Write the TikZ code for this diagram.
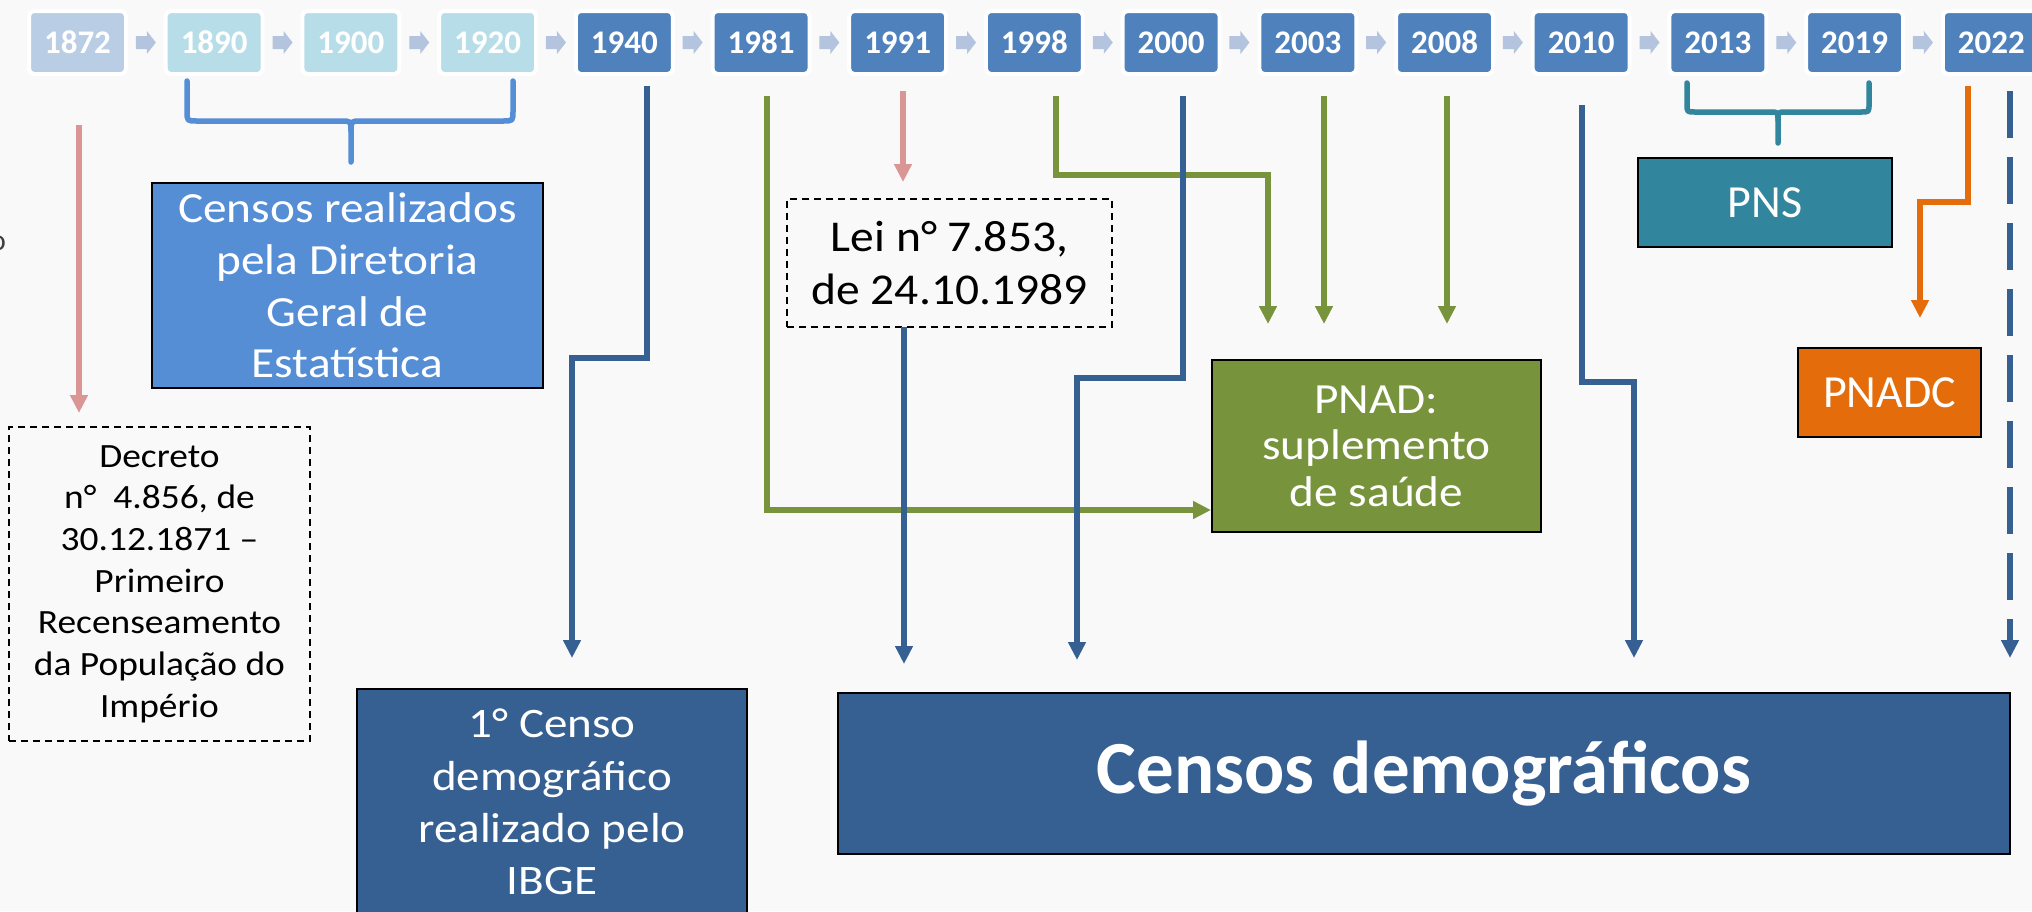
\documentclass[tikz,border=0pt]{standalone}
\usepackage{fontspec}
\setmainfont{Carlito}
\newfontfamily\strA[FakeStretch=1.10]{Carlito}
\newfontfamily\strB[FakeStretch=1.12]{Carlito}
\newfontfamily\strC[FakeStretch=1.08]{Carlito}
\usetikzlibrary{arrows.meta,calc}
\definecolor{bg}{HTML}{F9F9F9}
\definecolor{cA}{HTML}{B9CDE5}
\definecolor{cB}{HTML}{B7DEE8}
\definecolor{cC}{HTML}{4F81BD}
\definecolor{tlc}{HTML}{B4C3DE}
\definecolor{cmid}{HTML}{558ED5}
\definecolor{cdark}{HTML}{376092}
\definecolor{cgreen}{HTML}{77933C}
\definecolor{cteal}{HTML}{31859C}
\definecolor{corange}{HTML}{E46C0A}
\definecolor{cpink}{HTML}{D99694}
\begin{document}
\begin{tikzpicture}[x=1pt,y=-1pt,
  yearbox/.style={draw=white, line width=4pt, rounded corners=5pt, minimum width=97pt, minimum height=63pt, inner sep=0pt, text=white, font=\bfseries\fontsize{33}{40}\selectfont},
  filledbox/.style={draw=black, line width=2pt, text=white, align=center, inner sep=0pt},
  dashedbox/.style={draw=black, line width=1.5pt, dash pattern=on 7pt off 5pt, text=black, align=center, inner sep=0pt},
  conn/.style={line width=5.2pt, line join=miter, -{Triangle[length=18pt,width=17pt]}},
  bracestyle/.style={line width=5.5pt, line cap=round, line join=round},
]
\useasboundingbox (0,0) rectangle (2032,911);
\clip (0,0) rectangle (2032,911);
\fill[bg] (0,0) rectangle (2032,911);

% timeline
\foreach \yr/\col [count=\i from 0] in {1872/cA,1890/cB,1900/cB,1920/cB,1940/cC,1981/cC,1991/cC,1998/cC,2000/cC,2003/cC,2008/cC,2010/cC,2013/cC,2019/cC,2022/cC}
  \node[yearbox, fill=\col] (y\yr) at ({77.5+136.7*\i},42.5) {\yr};
\foreach \i in {0,...,13}{
  \pgfmathsetmacro\cx{77.5+136.7*\i+68.35}
  \fill[tlc] ({\cx-10},36) -- ({\cx+1},36) -- ({\cx+1},31) -- ({\cx+10},42.5) -- ({\cx+1},54) -- ({\cx+1},49) -- ({\cx-10},49) -- cycle;
}

% fragment at the left edge
\node[text={rgb,255:red,64;green,64;blue,64}, font=\fontsize{30}{36}\selectfont, inner sep=0pt] (frag) at (-2,243) {o};

% braces
\draw[bracestyle, cmid] (187,81) -- (187,111) .. controls (187,121) .. (197,121) -- (341,121) .. controls (351,121) .. (351,131) -- (351,162);
\draw[bracestyle, cmid] (513,81) -- (513,111) .. controls (513,121) .. (503,121) -- (361,121) .. controls (351,121) .. (351,131);
\draw[bracestyle, cteal] (1687,83) -- (1687,104) .. controls (1687,112) .. (1695,112) -- (1770,112) .. controls (1778,112) .. (1778,120) -- (1778,143);
\draw[bracestyle, cteal] (1869,83) -- (1869,104) .. controls (1869,112) .. (1861,112) -- (1786,112) .. controls (1778,112) .. (1778,120);

% boxes
\node[dashedbox, minimum width=301pt, minimum height=314pt, font=\strA\fontsize{34}{41.7}\selectfont] (decreto) at (159.5,584) {Decreto\\n°~ 4.856, de\\30.12.1871 –\\Primeiro\\Recenseamento\\da População do\\Império};
\node[filledbox, fill=cmid, minimum width=391pt, minimum height=205pt, font=\strA\fontsize{43}{51.7}\selectfont] (dge) at (347.5,285.5) {Censos realizados\\pela Diretoria\\Geral de\\Estatística};
\node[filledbox, fill=cdark, minimum width=390pt, minimum height=226pt, font=\strB\fontsize{42}{52.3}\selectfont] (censo1) at (552,802) {1° Censo\\demográfico\\realizado pelo\\IBGE};
\node[dashedbox, minimum width=325pt, minimum height=128pt, font=\strC\fontsize{44}{53}\selectfont] (lei) at (949.5,263) {Lei n° 7.853,\\de 24.10.1989};
\node[filledbox, fill=cdark, minimum width=1172pt, minimum height=161pt, font=\bfseries\fontsize{75}{90}\selectfont] (censos) at (1424,773.5) {Censos demográficos};
\node[filledbox, fill=cgreen, minimum width=329pt, minimum height=172pt, font=\strA\fontsize{43}{46.5}\selectfont] (pnad) at (1376.5,446) {PNAD:\\suplemento\\de saúde};
\node[filledbox, fill=cteal, minimum width=254pt, minimum height=89pt, font=\fontsize{46}{53}\selectfont] (pns) at (1765,202.5) {PNS};
\node[filledbox, fill=corange, minimum width=183pt, minimum height=89pt, font=\fontsize{46}{53}\selectfont] (pnadc) at (1889.5,392.5) {PNADC};

% connector end points
\coordinate (s1872) at (79,125);   \coordinate (e1872) at (79,413);
\coordinate (s1940) at (647,86);   \coordinate (e1940) at (572,658);
\coordinate (s1981) at (767,96);   \coordinate (e1981) at (pnad.west |- 0,510);
\coordinate (s1991) at (903,91);   \coordinate (e1991) at (903,182);
\coordinate (slei) at (904,327);   \coordinate (elei) at (904,664);
\coordinate (s1998) at (1056,96);  \coordinate (e1998) at (1268,324);
\coordinate (s2000) at (1183,96);  \coordinate (e2000) at (1077,660);
\coordinate (s2003) at (1324,96);  \coordinate (e2003) at (1324,324);
\coordinate (s2008) at (1447,96);  \coordinate (e2008) at (1447,324);
\coordinate (s2010) at (1582,105); \coordinate (e2010) at (1634,658);
\coordinate (s2022o) at (1968,86); \coordinate (e2022o) at (1920,318);
\coordinate (s2022d) at (2010,91); \coordinate (e2022d) at (2010,658);

% pink
\draw[conn, cpink] (s1872) -- (e1872);
\draw[conn, cpink] (s1991) -- (e1991);
% green
\draw[conn, cgreen] (s1981) |- (e1981);
\draw[conn, cgreen] (s1998) -- (1056,175) -| (e1998);
\draw[conn, cgreen] (s2003) -- (e2003);
\draw[conn, cgreen] (s2008) -- (e2008);
% blue
\draw[conn, cdark] (s1940) -- (647,358) -| (e1940);
\draw[conn, cdark] (slei) -- (elei);
\draw[conn, cdark] (s2000) -- (1183,378) -| (e2000);
\draw[conn, cdark] (s2010) -- (1582,382) -| (e2010);
\draw[conn, cdark, dash pattern=on 47pt off 19pt] (s2022d) -- (e2022d);
% orange
\draw[conn, corange] (s2022o) -- (1968,202) -| (e2022o);
\end{tikzpicture}
\end{document}
